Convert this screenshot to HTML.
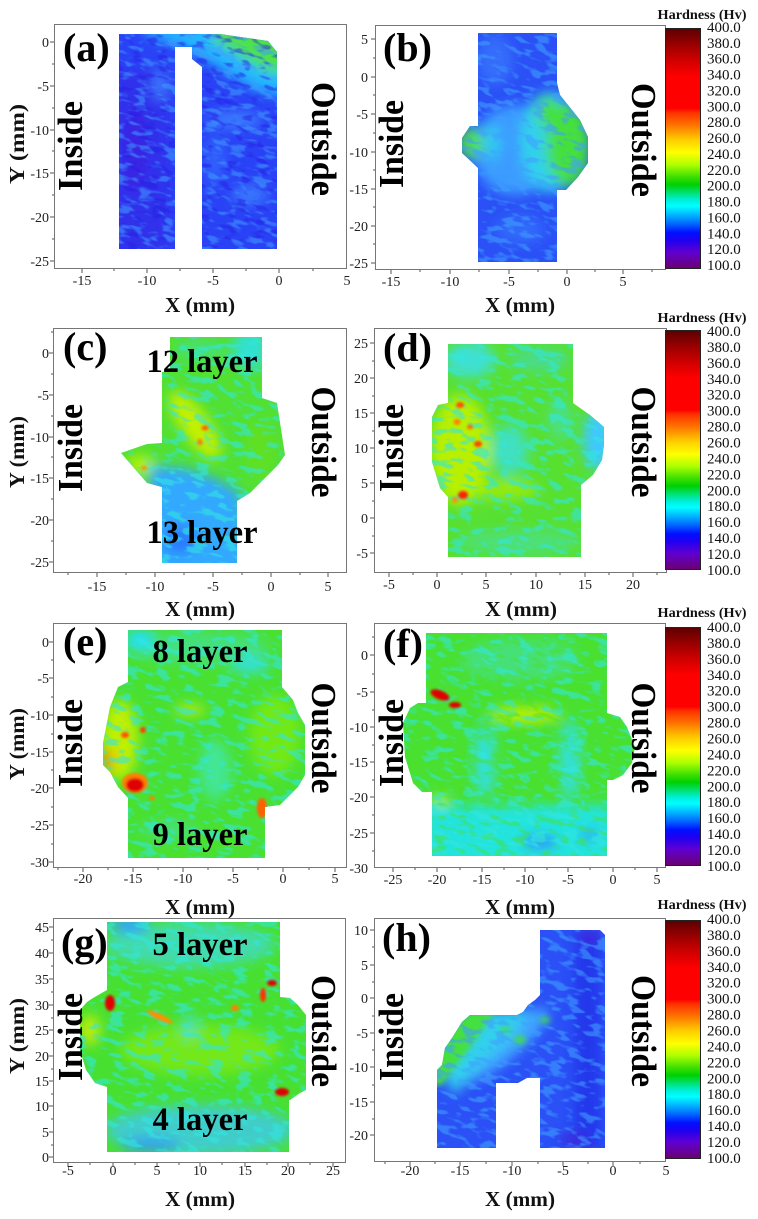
<!DOCTYPE html>
<html><head><meta charset="utf-8"><style>
html,body{margin:0;padding:0;background:#fff;}
svg{display:block;}
.t{font-size:14px;}
.cl{font-size:15px;}
.ht{font-size:13.5px;font-weight:bold;}
.ax{font-size:21px;font-weight:bold;}
.io{font-size:35px;font-weight:bold;}
.pl{font-size:40px;font-weight:bold;}
.ly{font-size:33px;font-weight:bold;}
</style></head><body>
<svg width="758" height="1219" viewBox="0 0 758 1219" xmlns="http://www.w3.org/2000/svg" font-family="'Liberation Serif', serif">
<defs>
<linearGradient id="cb" x1="0" y1="0" x2="0" y2="1">
<stop offset="0" stop-color="#5c0000"/>
<stop offset="0.067" stop-color="#9a0000"/>
<stop offset="0.133" stop-color="#d00000"/>
<stop offset="0.2" stop-color="#ff0000"/>
<stop offset="0.333" stop-color="#ff0000"/>
<stop offset="0.35" stop-color="#ff3000"/>
<stop offset="0.4" stop-color="#ff7000"/>
<stop offset="0.433" stop-color="#ffa000"/>
<stop offset="0.467" stop-color="#ffd000"/>
<stop offset="0.517" stop-color="#ffff00"/>
<stop offset="0.567" stop-color="#b0ff00"/>
<stop offset="0.617" stop-color="#40e000"/>
<stop offset="0.65" stop-color="#00d000"/>
<stop offset="0.683" stop-color="#00e070"/>
<stop offset="0.717" stop-color="#00f0e0"/>
<stop offset="0.74" stop-color="#00ffff"/>
<stop offset="0.783" stop-color="#00a8ff"/>
<stop offset="0.817" stop-color="#0060ff"/>
<stop offset="0.85" stop-color="#0010ff"/>
<stop offset="0.883" stop-color="#2000f0"/>
<stop offset="0.933" stop-color="#6000d0"/>
<stop offset="1" stop-color="#6a0070"/>
</linearGradient>
<filter id="b6" x="-50%" y="-50%" width="200%" height="200%"><feGaussianBlur stdDeviation="6"/></filter>
<filter id="b3" x="-50%" y="-50%" width="200%" height="200%"><feGaussianBlur stdDeviation="3"/></filter>
<filter id="b1" x="-100%" y="-100%" width="300%" height="300%"><feGaussianBlur stdDeviation="1.3"/></filter>
<filter id="nc" x="0" y="0" width="1" height="1" color-interpolation-filters="sRGB">
<feTurbulence type="fractalNoise" baseFrequency="0.065 0.15" numOctaves="2" seed="4"/>
<feColorMatrix type="matrix" values="0 0 0 0 0.2  0 0 0 0 0.9  0 0 0 0 0.88  7 0 0 0 -3.6"/>
</filter>
<filter id="nb" x="0" y="0" width="1" height="1" color-interpolation-filters="sRGB">
<feTurbulence type="fractalNoise" baseFrequency="0.065 0.15" numOctaves="2" seed="7"/>
<feColorMatrix type="matrix" values="0 0 0 0 0.25  0 0 0 0 0.62  0 0 0 0 1  7 0 0 0 -3.6"/>
</filter>
<filter id="nd" x="0" y="0" width="1" height="1" color-interpolation-filters="sRGB">
<feTurbulence type="fractalNoise" baseFrequency="0.065 0.15" numOctaves="2" seed="19"/>
<feColorMatrix type="matrix" values="0 0 0 0 0.15  0 0 0 0 0.12  0 0 0 0 0.9  7 0 0 0 -3.8"/>
</filter>
<filter id="ng" x="0" y="0" width="1" height="1" color-interpolation-filters="sRGB">
<feTurbulence type="fractalNoise" baseFrequency="0.065 0.15" numOctaves="2" seed="23"/>
<feColorMatrix type="matrix" values="0 0 0 0 0.3  0 0 0 0 0.88  0 0 0 0 0.15  7 0 0 0 -3.8"/>
</filter>
<clipPath id="cA"><path d="M119,34 L220,34 L268,41 L277,52 L277,249 L202,249 L202,67 L192,59 L192,47 L175,47 L175,249 L119,249 Z"/></clipPath>
<clipPath id="cB"><path d="M478,33 L557,33 L557,83 L560,95 L580,120 L588,137 L588,163 L578,177 L566,190 L557,190 L557,262 L478,262 L478,168 L462,153 L462,138 L470,126 L478,126 Z"/></clipPath>
<clipPath id="cC"><path d="M170,337 L262,337 L262,398 L277,403 L285,455 L278,465 L250,493 L237,501 L237,563 L162,563 L162,487 L147,483 L121,453 L147,444 L162,443 L162,372 L170,372 Z"/></clipPath>
<clipPath id="cD"><path d="M448,344 L573,344 L573,403 L590,415 L604,427 L604,445 L602,460 L593,475 L581,485 L581,557 L448,557 L448,497 L440,488 L432,462 L432,417 L438,405 L448,403 Z"/></clipPath>
<clipPath id="cE"><path d="M128,630 L282,630 L282,687 L293,700 L298,713 L305,725 L305,775 L298,787 L280,805 L265,807 L265,858 L128,858 L128,798 L118,787 L110,772 L103,765 L103,743 L110,707 L118,687 L128,682 Z"/></clipPath>
<clipPath id="cF"><path d="M426,633 L607,633 L607,713 L620,717 L627,727 L635,747 L632,763 L623,775 L613,780 L607,780 L607,856 L432,856 L432,792 L422,792 L413,783 L405,757 L403,723 L410,708 L418,703 L426,703 Z"/></clipPath>
<clipPath id="cG"><path d="M107,922 L280,922 L280,997 L290,998 L298,1005 L306,1015 L306,1090 L300,1093 L290,1100 L289,1100 L289,1152 L107,1152 L107,1087 L95,1083 L86,1070 L80,1050 L80,1010 L87,1002 L93,998 L107,990 Z"/></clipPath>
<clipPath id="cH"><path d="M540,930 L600,930 L605,935 L605,1148 L540,1148 L540,1078 L527,1078 L518,1083 L496,1083 L496,1148 L437,1148 L437,1070 L442,1065 L445,1048 L452,1038 L462,1022 L470,1015 L517,1015 L523,1012 L528,1005 L535,1000 L540,995 Z"/></clipPath>
</defs>

<!-- ===== Panel (a) ===== -->
<g clip-path="url(#cA)">
<rect x="110" y="30" width="180" height="225" fill="#2a42f6"/>
<g filter="url(#b6)">
<rect x="110" y="70" width="60" height="185" fill="#3428e8" opacity=".7"/>
<ellipse cx="135" cy="150" rx="12" ry="45" fill="#4418dc" opacity=".5"/>
<polygon points="140,25 290,25 290,100 250,88 215,66 180,46 150,38" fill="#22b8ff"/>
<polygon points="205,25 290,25 290,76 262,70 238,55 215,42" fill="#4ee24a"/>
<ellipse cx="235" cy="120" rx="28" ry="8" fill="#3f90ff" opacity=".8"/>
<ellipse cx="250" cy="195" rx="18" ry="10" fill="#3f90ff" opacity=".7"/>
<ellipse cx="160" cy="85" rx="8" ry="16" fill="#4088ff" opacity=".8"/>
<ellipse cx="215" cy="160" rx="12" ry="25" fill="#3070ff" opacity=".6"/>
</g>
<g transform="rotate(15 198 142)"><rect x="40" y="-30" width="320" height="340" filter="url(#nb)" opacity=".55"/></g>
<g transform="rotate(15 198 142)"><rect x="40" y="-30" width="320" height="340" filter="url(#nd)" opacity=".5"/></g>
</g>

<!-- ===== Panel (b) ===== -->
<g clip-path="url(#cB)">
<rect x="455" y="30" width="140" height="235" fill="#2a50f6"/>
<g filter="url(#b6)">
<ellipse cx="515" cy="150" rx="42" ry="45" fill="#3a9cff"/>
<ellipse cx="550" cy="142" rx="30" ry="50" fill="#30d0ec"/>
<ellipse cx="568" cy="145" rx="22" ry="42" fill="#44e03c"/>
<ellipse cx="548" cy="112" rx="12" ry="15" fill="#44e03c"/>
<ellipse cx="471" cy="143" rx="12" ry="16" fill="#50e040"/>
<ellipse cx="492" cy="142" rx="9" ry="18" fill="#30c8f0"/>
<ellipse cx="495" cy="60" rx="18" ry="25" fill="#3a80ff" opacity=".6"/>
<ellipse cx="520" cy="230" rx="25" ry="15" fill="#3a80ff" opacity=".5"/>
</g>
<g transform="rotate(15 520 148)"><rect x="380" y="0" width="290" height="300" filter="url(#nb)" opacity=".6"/></g>
</g>

<!-- ===== Panel (c) ===== -->
<g clip-path="url(#cC)">
<rect x="115" y="330" width="175" height="240" fill="#52e032"/>
<g filter="url(#b6)">
<ellipse cx="250" cy="350" rx="18" ry="20" fill="#30e0d0"/>
<ellipse cx="200" cy="350" rx="25" ry="10" fill="#40e0a0" opacity=".6"/>
<ellipse cx="195" cy="425" rx="14" ry="40" transform="rotate(-35 195 425)" fill="#c4f000"/>
<ellipse cx="140" cy="465" rx="15" ry="10" fill="#b0f000"/>
<ellipse cx="260" cy="450" rx="15" ry="30" fill="#60e020"/>
<polygon points="150,466 185,468 215,478 240,492 250,575 150,575" fill="#32a8ff"/>
<ellipse cx="180" cy="540" rx="18" ry="14" fill="#2a70ff" opacity=".8"/>
</g>
<g transform="rotate(15 203 450)"><rect x="60" y="300" width="290" height="300" filter="url(#nc)" opacity=".6"/></g>
<g filter="url(#b1)">
<ellipse cx="205" cy="428" rx="3.5" ry="2.5" fill="#ff6000"/>
<ellipse cx="200" cy="442" rx="2.5" ry="3.5" fill="#ff8000"/>
<ellipse cx="144" cy="468" rx="3" ry="2" fill="#ff9000"/>
</g>
</g>

<!-- ===== Panel (d) ===== -->
<g clip-path="url(#cD)">
<rect x="425" y="340" width="185" height="225" fill="#58e030"/>
<g filter="url(#b6)">
<ellipse cx="460" cy="450" rx="30" ry="55" fill="#b8f000"/>
<ellipse cx="470" cy="360" rx="25" ry="18" fill="#40e0d0"/>
<ellipse cx="540" cy="360" rx="30" ry="12" fill="#40d8c0" opacity=".6"/>
<ellipse cx="510" cy="450" rx="18" ry="25" fill="#40e0c0"/>
<ellipse cx="598" cy="440" rx="15" ry="30" fill="#40c8ff"/>
<ellipse cx="560" cy="420" rx="12" ry="20" fill="#40e0c0" opacity=".6"/>
<ellipse cx="520" cy="542" rx="60" ry="12" fill="#40e0c0" opacity=".5"/>
<ellipse cx="500" cy="490" rx="40" ry="10" fill="#b0f000" opacity=".7"/>
</g>
<g transform="rotate(15 518 450)"><rect x="380" y="300" width="280" height="300" filter="url(#nc)" opacity=".6"/></g>
<g filter="url(#b1)">
<ellipse cx="460" cy="405" rx="4" ry="3" fill="#ff5000"/>
<ellipse cx="457" cy="422" rx="3.5" ry="3" fill="#ff8000"/>
<ellipse cx="470" cy="427" rx="3" ry="2.5" fill="#ff7000"/>
<ellipse cx="478" cy="444" rx="4" ry="3" fill="#ff4000"/>
<ellipse cx="463" cy="495" rx="5" ry="4" fill="#ff2000"/>
<ellipse cx="455" cy="500" rx="3" ry="3" fill="#ff9000"/>
</g>
</g>

<!-- ===== Panel (e) ===== -->
<g clip-path="url(#cE)">
<rect x="100" y="625" width="210" height="240" fill="#4ae030"/>
<g filter="url(#b6)">
<ellipse cx="200" cy="648" rx="70" ry="15" fill="#40e0b0" opacity=".6"/>
<ellipse cx="140" cy="640" rx="15" ry="10" fill="#20e0ff"/>
<ellipse cx="250" cy="665" rx="20" ry="8" fill="#30e0e0"/>
<ellipse cx="215" cy="770" rx="15" ry="30" fill="#40e8c0" opacity=".7"/>
<ellipse cx="120" cy="740" rx="18" ry="40" fill="#c0f000"/>
<ellipse cx="108" cy="760" rx="6" ry="12" fill="#ff9000"/>
<ellipse cx="190" cy="710" rx="15" ry="4" fill="#e0f000"/>
<ellipse cx="275" cy="735" rx="25" ry="40" fill="#90f000" opacity=".6"/>
<ellipse cx="170" cy="830" rx="30" ry="8" fill="#40e0c0" opacity=".5"/>
</g>
<g transform="rotate(15 204 745)"><rect x="60" y="600" width="290" height="300" filter="url(#nc)" opacity=".6"/></g>
<g filter="url(#b1)">
<ellipse cx="135" cy="783" rx="13" ry="10" fill="#ff8000"/>
<ellipse cx="135" cy="785" rx="9" ry="7" fill="#e00000"/>
<ellipse cx="262" cy="808" rx="5" ry="10" fill="#ff6000"/>
<ellipse cx="125" cy="735" rx="4" ry="3" fill="#ff5000"/>
<ellipse cx="143" cy="730" rx="3" ry="3" fill="#ff4000"/>
<ellipse cx="152" cy="798" rx="3" ry="2" fill="#ff8000"/>
</g>
</g>

<!-- ===== Panel (f) ===== -->
<g clip-path="url(#cF)">
<rect x="400" y="630" width="240" height="230" fill="#4ae030"/>
<g filter="url(#b6)">
<ellipse cx="520" cy="660" rx="60" ry="20" fill="#40e0c0" opacity=".5"/>
<ellipse cx="485" cy="760" rx="10" ry="40" fill="#30e0e0"/>
<ellipse cx="570" cy="760" rx="10" ry="40" fill="#30e0e0"/>
<rect x="425" y="805" width="190" height="60" fill="#20e4f0" opacity=".9"/>
<ellipse cx="540" cy="842" rx="18" ry="6" fill="#2a80ff"/>
<ellipse cx="590" cy="835" rx="12" ry="5" fill="#3090ff" opacity=".8"/>
<ellipse cx="525" cy="715" rx="35" ry="8" fill="#c0f000"/>
<ellipse cx="440" cy="800" rx="8" ry="6" fill="#b0f000"/>
</g>
<g transform="rotate(15 519 745)"><rect x="370" y="600" width="300" height="300" filter="url(#nc)" opacity=".6"/></g>
<g transform="rotate(15 519 745)" clip-path="none"><rect x="370" y="600" width="300" height="300" filter="url(#ng)" opacity=".45"/></g>
<g filter="url(#b1)">
<ellipse cx="440" cy="695" rx="10" ry="4.5" transform="rotate(22 440 695)" fill="#e00000"/>
<ellipse cx="455" cy="705" rx="6" ry="3" fill="#e00000"/>
</g>
</g>

<!-- ===== Panel (g) ===== -->
<g clip-path="url(#cG)">
<rect x="75" y="918" width="240" height="240" fill="#48e030"/>
<g filter="url(#b6)">
<ellipse cx="190" cy="945" rx="85" ry="22" fill="#40d8e0" opacity=".7"/>
<ellipse cx="130" cy="925" rx="20" ry="8" fill="#30a0ff"/>
<ellipse cx="200" cy="1130" rx="95" ry="25" fill="#40c8f0" opacity=".8"/>
<ellipse cx="150" cy="1145" rx="30" ry="8" fill="#3090ff" opacity=".7"/>
<ellipse cx="200" cy="1050" rx="80" ry="25" fill="#a0f000" opacity=".5"/>
<ellipse cx="90" cy="1030" rx="10" ry="15" fill="#e0f000" opacity=".8"/>
<ellipse cx="190" cy="1025" rx="6" ry="12" fill="#40e0d0"/>
</g>
<g transform="rotate(15 195 1037)"><rect x="50" y="890" width="290" height="300" filter="url(#nc)" opacity=".6"/></g>
<g filter="url(#b1)">
<ellipse cx="110" cy="1003" rx="5" ry="8" fill="#e00000"/>
<ellipse cx="272" cy="983" rx="5" ry="3" fill="#e00000"/>
<ellipse cx="263" cy="995" rx="3" ry="7" fill="#ff3000"/>
<ellipse cx="282" cy="1092" rx="7" ry="4" fill="#e00000"/>
<ellipse cx="160" cy="1017" rx="14" ry="3" transform="rotate(25 160 1017)" fill="#ff9000"/>
<ellipse cx="235" cy="1008" rx="4" ry="3" fill="#ff8000"/>
</g>
</g>

<!-- ===== Panel (h) ===== -->
<g clip-path="url(#cH)">
<rect x="430" y="925" width="180" height="230" fill="#2a50f6"/>
<g filter="url(#b6)">
<rect x="575" y="930" width="25" height="220" fill="#2030e8" opacity=".8"/>
<ellipse cx="590" cy="937" rx="12" ry="6" fill="#4020d8"/>
<ellipse cx="575" cy="1140" rx="15" ry="6" fill="#4020d8"/>
<ellipse cx="505" cy="1045" rx="55" ry="14" transform="rotate(-40 505 1045)" fill="#40a8ff"/>
<polygon points="455,1095 440,1070 460,1030 480,1012 530,1010 510,1040 485,1060" fill="#30d0ec"/>
</g>
<g filter="url(#b3)">
<polygon points="434,1085 434,1060 445,1040 460,1020 470,1012 495,1012 482,1030 468,1050 452,1070 442,1085" fill="#44e040"/>
<ellipse cx="520" cy="1040" rx="6" ry="4" fill="#40e040"/>
<ellipse cx="545" cy="1020" rx="5" ry="3" fill="#40e040"/>
<ellipse cx="505" cy="1030" rx="5" ry="3" fill="#40e040"/>
</g>
<g transform="rotate(15 520 1040)"><rect x="380" y="890" width="290" height="300" filter="url(#nb)" opacity=".6"/></g>
</g>

<!-- ===== Frames ===== -->
<g fill="none" stroke="#767676" stroke-width="1">
<rect x="54.5" y="24.5" width="292" height="244"/>
<rect x="375.5" y="25.5" width="290" height="244"/>
<rect x="53.5" y="328.5" width="293" height="244"/>
<rect x="374.5" y="328.5" width="292" height="244"/>
<rect x="53.5" y="623.5" width="293" height="244"/>
<rect x="374.5" y="623.5" width="291" height="244"/>
<rect x="53.5" y="918.5" width="292" height="244"/>
<rect x="374.5" y="918.5" width="291" height="243"/>
</g>
<!-- ticks -->
<g stroke="#555" stroke-width="1" fill="none">
<path d="M82,269v4M147,269v4M213,269v4M279,269v4M114,269v2M180,269v2M246,269v2M313,269v2M54,42h-4M54,86h-4M54,130h-4M54,173h-4M54,217h-4M54,261h-4M54,64h-2M54,108h-2M54,151h-2M54,195h-2M54,239h-2"/>
<path d="M391,270v4M450,270v4M509,270v4M567,270v4M623,270v4M420,270v2M479,270v2M538,270v2M595,270v2M652,270v2M375,39h-4M375,77h-4M375,114h-4M375,152h-4M375,189h-4M375,226h-4M375,263h-4M375,58h-2M375,95h-2M375,133h-2M375,170h-2M375,207h-2M375,244h-2"/>
<path d="M97,573v4M155,573v4M213,573v4M271,573v4M328,573v4M68,573v2M126,573v2M184,573v2M242,573v2M300,573v2M53,353h-4M53,395h-4M53,437h-4M53,478h-4M53,520h-4M53,562h-4M53,332h-2M53,374h-2M53,416h-2M53,457h-2M53,499h-2M53,541h-2"/>
<path d="M389,573v4M437,573v4M486,573v4M536,573v4M585,573v4M633,573v4M413,573v2M462,573v2M511,573v2M560,573v2M609,573v2M657,573v2M374,343h-4M374,378h-4M374,413h-4M374,448h-4M374,483h-4M374,518h-4M374,553h-4M374,361h-2M374,396h-2M374,431h-2M374,466h-2M374,501h-2M374,536h-2"/>
<path d="M83,868v4M133,868v4M183,868v4M233,868v4M283,868v4M335,868v4M58,868v2M108,868v2M158,868v2M208,868v2M258,868v2M309,868v2M53,642h-4M53,678h-4M53,715h-4M53,752h-4M53,788h-4M53,825h-4M53,862h-4M53,660h-2M53,697h-2M53,734h-2M53,770h-2M53,807h-2M53,844h-2"/>
<path d="M393,868v4M437,868v4M482,868v4M525,868v4M568,868v4M613,868v4M657,868v4M415,868v2M460,868v2M504,868v2M547,868v2M590,868v2M635,868v2M374,655h-4M374,692h-4M374,727h-4M374,762h-4M374,797h-4M374,833h-4M374,637h-2M374,674h-2M374,710h-2M374,745h-2M374,780h-2M374,815h-2M374,851h-2"/>
<path d="M68,1163v4M113,1163v4M157,1163v4M200,1163v4M245,1163v4M288,1163v4M333,1163v4M90,1163v2M135,1163v2M179,1163v2M222,1163v2M267,1163v2M310,1163v2M53,927h-4M53,953h-4M53,979h-4M53,1005h-4M53,1030h-4M53,1056h-4M53,1081h-4M53,1106h-4M53,1132h-4M53,1157h-4M53,940h-2M53,966h-2M53,992h-2M53,1018h-2M53,1043h-2M53,1069h-2M53,1094h-2M53,1119h-2M53,1145h-2"/>
<path d="M410,1162v4M460,1162v4M512,1162v4M563,1162v4M613,1162v4M385,1162v2M435,1162v2M486,1162v2M538,1162v2M588,1162v2M640,1162v2M374,930h-4M374,965h-4M374,998h-4M374,1033h-4M374,1067h-4M374,1102h-4M374,1135h-4M374,947h-2M374,982h-2M374,1016h-2M374,1050h-2M374,1085h-2M374,1119h-2"/>
</g>

<!-- ===== Tick labels ===== -->
<g class="t" fill="#222" text-anchor="middle">
<text x="82" y="285">-15</text><text x="147" y="285">-10</text><text x="213" y="285">-5</text><text x="279" y="285">0</text><text x="347" y="285">5</text>
<text x="391" y="286">-15</text><text x="450" y="286">-10</text><text x="509" y="286">-5</text><text x="567" y="286">0</text><text x="623" y="286">5</text>
<text x="97" y="591">-15</text><text x="155" y="591">-10</text><text x="213" y="591">-5</text><text x="271" y="591">0</text><text x="328" y="591">5</text>
<text x="389" y="589">-5</text><text x="437" y="589">0</text><text x="486" y="589">5</text><text x="536" y="589">10</text><text x="585" y="589">15</text><text x="633" y="589">20</text>
<text x="83" y="883">-20</text><text x="133" y="883">-15</text><text x="183" y="883">-10</text><text x="233" y="883">-5</text><text x="283" y="883">0</text><text x="335" y="883">5</text>
<text x="393" y="884">-25</text><text x="437" y="884">-20</text><text x="482" y="884">-15</text><text x="525" y="884">-10</text><text x="568" y="884">-5</text><text x="613" y="884">0</text><text x="657" y="884">5</text>
<text x="68" y="1175">-5</text><text x="113" y="1175">0</text><text x="157" y="1175">5</text><text x="200" y="1175">10</text><text x="245" y="1175">15</text><text x="288" y="1175">20</text><text x="333" y="1175">25</text>
<text x="410" y="1175">-20</text><text x="460" y="1175">-15</text><text x="512" y="1175">-10</text><text x="563" y="1175">-5</text><text x="613" y="1175">0</text><text x="666" y="1175">5</text>
</g>
<g class="t" fill="#222" text-anchor="end">
<text x="49" y="47">0</text><text x="49" y="91">-5</text><text x="49" y="135">-10</text><text x="49" y="178">-15</text><text x="49" y="222">-20</text><text x="49" y="266">-25</text>
<text x="368" y="44">5</text><text x="368" y="82">0</text><text x="368" y="119">-5</text><text x="368" y="157">-10</text><text x="368" y="194">-15</text><text x="368" y="231">-20</text><text x="368" y="268">-25</text>
<text x="49" y="358">0</text><text x="49" y="400">-5</text><text x="49" y="442">-10</text><text x="49" y="483">-15</text><text x="49" y="525">-20</text><text x="49" y="567">-25</text>
<text x="368" y="348">25</text><text x="368" y="383">20</text><text x="368" y="418">15</text><text x="368" y="453">10</text><text x="368" y="488">5</text><text x="368" y="523">0</text><text x="368" y="558">-5</text>
<text x="49" y="647">0</text><text x="49" y="683">-5</text><text x="49" y="720">-10</text><text x="49" y="757">-15</text><text x="49" y="793">-20</text><text x="49" y="830">-25</text><text x="49" y="867">-30</text>
<text x="368" y="660">0</text><text x="368" y="697">-5</text><text x="368" y="732">-10</text><text x="368" y="767">-15</text><text x="368" y="802">-20</text><text x="368" y="838">-25</text><text x="368" y="873">-30</text>
<text x="49" y="932">45</text><text x="49" y="958">40</text><text x="49" y="984">35</text><text x="49" y="1010">30</text><text x="49" y="1035">25</text><text x="49" y="1061">20</text><text x="49" y="1086">15</text><text x="49" y="1111">10</text><text x="49" y="1137">5</text><text x="49" y="1162">0</text>
<text x="368" y="935">10</text><text x="368" y="970">5</text><text x="368" y="1003">0</text><text x="368" y="1038">-5</text><text x="368" y="1072">-10</text><text x="368" y="1107">-15</text><text x="368" y="1140">-20</text>
</g>

<!-- ===== Axis titles ===== -->
<g class="ax" fill="#111" text-anchor="middle">
<text x="200" y="312" textLength="70" lengthAdjust="spacingAndGlyphs">X (mm)</text>
<text x="520" y="312" textLength="70" lengthAdjust="spacingAndGlyphs">X (mm)</text>
<text x="200" y="616" textLength="70" lengthAdjust="spacingAndGlyphs">X (mm)</text>
<text x="521" y="616" textLength="72" lengthAdjust="spacingAndGlyphs">X (mm)</text>
<text x="200" y="914" textLength="70" lengthAdjust="spacingAndGlyphs">X (mm)</text>
<text x="520" y="914" textLength="70" lengthAdjust="spacingAndGlyphs">X (mm)</text>
<text x="200" y="1206" textLength="70" lengthAdjust="spacingAndGlyphs">X (mm)</text>
<text x="520" y="1206" textLength="70" lengthAdjust="spacingAndGlyphs">X (mm)</text>
<text transform="translate(17,144) rotate(-90)" y="7" textLength="80" lengthAdjust="spacingAndGlyphs">Y (mm)</text>
<text transform="translate(17,452) rotate(-90)" y="7" textLength="72" lengthAdjust="spacingAndGlyphs">Y (mm)</text>
<text transform="translate(17,744) rotate(-90)" y="7" textLength="72" lengthAdjust="spacingAndGlyphs">Y (mm)</text>
<text transform="translate(17,1036) rotate(-90)" y="7" textLength="76" lengthAdjust="spacingAndGlyphs">Y (mm)</text>
</g>

<!-- ===== Inside / Outside ===== -->
<g class="io" fill="#000" text-anchor="middle">
<text transform="translate(71,146) rotate(-90)" y="11" textLength="90" lengthAdjust="spacingAndGlyphs">Inside</text>
<text transform="translate(392,144) rotate(-90)" y="11" textLength="88" lengthAdjust="spacingAndGlyphs">Inside</text>
<text transform="translate(71,448) rotate(-90)" y="11" textLength="88" lengthAdjust="spacingAndGlyphs">Inside</text>
<text transform="translate(392,448) rotate(-90)" y="11" textLength="88" lengthAdjust="spacingAndGlyphs">Inside</text>
<text transform="translate(71,743) rotate(-90)" y="11" textLength="88" lengthAdjust="spacingAndGlyphs">Inside</text>
<text transform="translate(392,743) rotate(-90)" y="11" textLength="88" lengthAdjust="spacingAndGlyphs">Inside</text>
<text transform="translate(71,1037) rotate(-90)" y="11" textLength="88" lengthAdjust="spacingAndGlyphs">Inside</text>
<text transform="translate(392,1037) rotate(-90)" y="11" textLength="88" lengthAdjust="spacingAndGlyphs">Inside</text>
<text transform="translate(323,139) rotate(90)" y="11" textLength="114" lengthAdjust="spacingAndGlyphs">Outside</text>
<text transform="translate(643,140) rotate(90)" y="11" textLength="114" lengthAdjust="spacingAndGlyphs">Outside</text>
<text transform="translate(323,442) rotate(90)" y="11" textLength="111" lengthAdjust="spacingAndGlyphs">Outside</text>
<text transform="translate(643,442) rotate(90)" y="11" textLength="111" lengthAdjust="spacingAndGlyphs">Outside</text>
<text transform="translate(323,738) rotate(90)" y="11" textLength="111" lengthAdjust="spacingAndGlyphs">Outside</text>
<text transform="translate(643,738) rotate(90)" y="11" textLength="111" lengthAdjust="spacingAndGlyphs">Outside</text>
<text transform="translate(323,1031) rotate(90)" y="11" textLength="112" lengthAdjust="spacingAndGlyphs">Outside</text>
<text transform="translate(643,1031) rotate(90)" y="11" textLength="112" lengthAdjust="spacingAndGlyphs">Outside</text>
</g>

<!-- ===== Panel letters ===== -->
<g class="pl" fill="#000">
<text x="63" y="61">(a)</text>
<text x="383" y="61">(b)</text>
<text x="63" y="360">(c)</text>
<text x="383" y="361">(d)</text>
<text x="63" y="655">(e)</text>
<text x="383" y="657">(f)</text>
<text x="61" y="956">(g)</text>
<text x="382" y="951">(h)</text>
</g>

<!-- ===== Layer labels ===== -->
<g class="ly" fill="#000" text-anchor="middle">
<text x="202" y="372" textLength="111" lengthAdjust="spacingAndGlyphs">12 layer</text>
<text x="202" y="543" textLength="111" lengthAdjust="spacingAndGlyphs">13 layer</text>
<text x="200" y="662" textLength="95" lengthAdjust="spacingAndGlyphs">8 layer</text>
<text x="200" y="845" textLength="95" lengthAdjust="spacingAndGlyphs">9 layer</text>
<text x="200" y="955" textLength="95" lengthAdjust="spacingAndGlyphs">5 layer</text>
<text x="200" y="1130" textLength="95" lengthAdjust="spacingAndGlyphs">4 layer</text>
</g>

<!-- ===== Colorbars ===== -->
<g stroke="#222" stroke-width="1">
<rect x="665.5" y="28.5" width="35" height="240" fill="url(#cb)"/>
<rect x="665.5" y="330.5" width="35" height="239" fill="url(#cb)"/>
<rect x="665.5" y="627.5" width="35" height="238" fill="url(#cb)"/>
<rect x="665.5" y="920.5" width="35" height="238" fill="url(#cb)"/>
</g>
<g class="ht" fill="#111" text-anchor="middle">
<text x="702" y="19" textLength="89" lengthAdjust="spacingAndGlyphs">Hardness (Hv)</text>
<text x="702" y="322" textLength="89" lengthAdjust="spacingAndGlyphs">Hardness (Hv)</text>
<text x="702" y="617" textLength="89" lengthAdjust="spacingAndGlyphs">Hardness (Hv)</text>
<text x="702" y="909" textLength="89" lengthAdjust="spacingAndGlyphs">Hardness (Hv)</text>
</g>
<g class="cl" fill="#111">
<text x="707" y="32">400.0</text><text x="707" y="47.9">380.0</text><text x="707" y="63.7">360.0</text><text x="707" y="79.6">340.0</text><text x="707" y="95.5">320.0</text><text x="707" y="111.4">300.0</text><text x="707" y="127.2">280.0</text><text x="707" y="143.1">260.0</text><text x="707" y="159">240.0</text><text x="707" y="174.8">220.0</text><text x="707" y="190.7">200.0</text><text x="707" y="206.6">180.0</text><text x="707" y="222.4">160.0</text><text x="707" y="238.3">140.0</text><text x="707" y="254.2">120.0</text><text x="707" y="270">100.0</text>
<text x="707" y="336">400.0</text><text x="707" y="351.9">380.0</text><text x="707" y="367.9">360.0</text><text x="707" y="383.8">340.0</text><text x="707" y="399.7">320.0</text><text x="707" y="415.7">300.0</text><text x="707" y="431.6">280.0</text><text x="707" y="447.5">260.0</text><text x="707" y="463.5">240.0</text><text x="707" y="479.4">220.0</text><text x="707" y="495.3">200.0</text><text x="707" y="511.2">180.0</text><text x="707" y="527.2">160.0</text><text x="707" y="543.1">140.0</text><text x="707" y="559">120.0</text><text x="707" y="575">100.0</text>
<text x="707" y="632">400.0</text><text x="707" y="647.9">380.0</text><text x="707" y="663.9">360.0</text><text x="707" y="679.8">340.0</text><text x="707" y="695.7">320.0</text><text x="707" y="711.7">300.0</text><text x="707" y="727.6">280.0</text><text x="707" y="743.5">260.0</text><text x="707" y="759.5">240.0</text><text x="707" y="775.4">220.0</text><text x="707" y="791.3">200.0</text><text x="707" y="807.2">180.0</text><text x="707" y="823.2">160.0</text><text x="707" y="839.1">140.0</text><text x="707" y="855">120.0</text><text x="707" y="871">100.0</text>
<text x="707" y="924">400.0</text><text x="707" y="939.9">380.0</text><text x="707" y="955.9">360.0</text><text x="707" y="971.8">340.0</text><text x="707" y="987.7">320.0</text><text x="707" y="1003.7">300.0</text><text x="707" y="1019.6">280.0</text><text x="707" y="1035.5">260.0</text><text x="707" y="1051.5">240.0</text><text x="707" y="1067.4">220.0</text><text x="707" y="1083.3">200.0</text><text x="707" y="1099.2">180.0</text><text x="707" y="1115.2">160.0</text><text x="707" y="1131.1">140.0</text><text x="707" y="1147">120.0</text><text x="707" y="1163">100.0</text>
</g>
</svg>
</body></html>
